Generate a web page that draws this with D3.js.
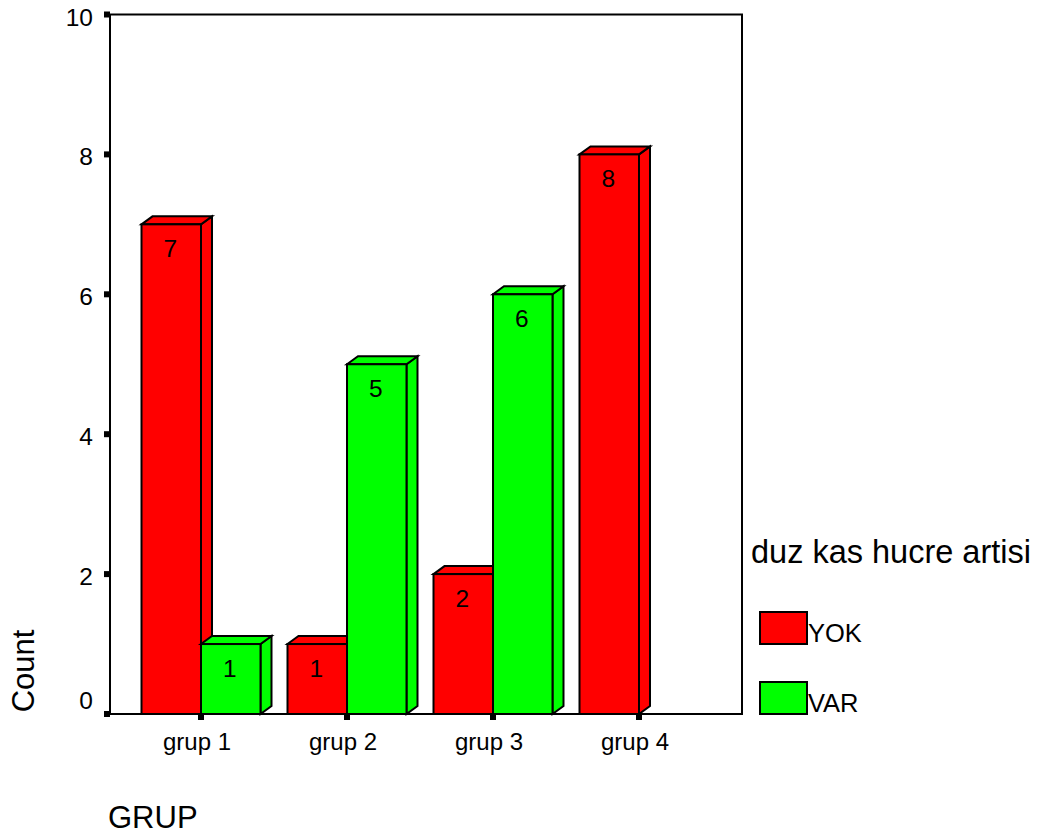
<!DOCTYPE html>
<html>
<head>
<meta charset="utf-8">
<script src="https://cdn.jsdelivr.net/npm/d3@7"></script>
<style>
  html, body { margin: 0; padding: 0; background: #fff; }
  svg { display: block; font-family: Arial, "Liberation Sans", sans-serif; }
</style>
</head>
<body>
<svg id="chart" width="1047" height="839"></svg>
<script>
// Counts of "duz kas hucre artisi" per group
const categories = ["grup 1", "grup 2", "grup 3", "grup 4"];
const seriesNames = ["YOK", "VAR"];
const yokValues = [7, 1, 2, 8];
const varValues = [1, 5, 6, 0];
const yTicks = [0, 2, 4, 6, 8, 10];
const seriesColors = { YOK: "#ff0000", VAR: "#00ff00" };

const svg = d3.select("#chart");

const plot = { left: 110, right: 742, top: 14.5, bottom: 714 };
const depthX = 11, depthY = 8;

const y = d3.scaleLinear().domain([0, 10]).range([plot.bottom, plot.top]);
const x = d3.scaleBand().domain(categories).range([128, 712]).padding(0);
const inner = d3.scaleBand().domain(seriesNames).range([-59.5, 59.5]).padding(0);

// frame
svg.append("rect")
  .attr("x", plot.left).attr("y", plot.top)
  .attr("width", plot.right - plot.left).attr("height", plot.bottom - plot.top)
  .attr("fill", "none").attr("stroke", "#000").attr("stroke-width", 2);

// y axis ticks (small squares) and labels
const yAxisG = svg.append("g");
yTicks.forEach((t, i) => {
  const yy = y(t);
  yAxisG.append("rect")
    .attr("x", plot.left - 6).attr("y", yy - 3)
    .attr("width", 6).attr("height", 6).attr("fill", "#000");
  // the lowest label is raised so it clears the category axis
  const ly = i === 0 ? yy - 5 : yy + 11;
  yAxisG.append("text")
    .attr("x", 93).attr("y", ly)
    .attr("text-anchor", "end")
    .attr("font-size", 24.5)
    .text(t);
});

// category ticks and labels
const xAxisG = svg.append("g");
categories.forEach(c => {
  const cx = x(c) + x.bandwidth() / 2;
  xAxisG.append("rect")
    .attr("x", cx - 3).attr("y", plot.bottom)
    .attr("width", 6).attr("height", 6).attr("fill", "#000");
  xAxisG.append("text")
    .attr("x", cx - 4).attr("y", 750)
    .attr("text-anchor", "middle")
    .attr("font-size", 24)
    .text(c);
});

// bars data
const bars = [];
categories.forEach((c, i) => {
  bars.push({ cat: c, series: "YOK", value: yokValues[i] });
  bars.push({ cat: c, series: "VAR", value: varValues[i] });
});

const barG = svg.append("g");
bars.filter(d => d.value > 0).forEach(d => {
  const cx = x(d.cat) + x.bandwidth() / 2;
  const x0 = cx + inner(d.series);
  const x1 = x0 + inner.bandwidth();
  const yt = y(d.value), yb = y(0);
  const col = seriesColors[d.series];
  const g = barG.append("g")
    .attr("stroke", "#000").attr("stroke-width", 2).attr("stroke-linejoin", "miter")
    .attr("fill", col);
  // side face
  g.append("polygon").attr("points", [
    [x1, yt], [x1 + depthX, yt - depthY], [x1 + depthX, yb - depthY], [x1, yb]
  ].map(p => p.join(",")).join(" "));
  // top face
  g.append("polygon").attr("points", [
    [x0, yt], [x0 + depthX, yt - depthY], [x1 + depthX, yt - depthY], [x1, yt]
  ].map(p => p.join(",")).join(" "));
  // front face
  g.append("rect").attr("x", x0).attr("y", yt).attr("width", x1 - x0).attr("height", yb - yt);
  // value label
  barG.append("text")
    .attr("x", (x0 + x1) / 2 - 1).attr("y", yt + 33)
    .attr("text-anchor", "middle")
    .attr("font-size", 24.5)
    .text(d.value);
});

// axis titles
svg.append("text")
  .attr("transform", "translate(34,671) rotate(-90)")
  .attr("text-anchor", "middle")
  .attr("font-size", 31)
  .text("Count");
svg.append("text")
  .attr("x", 108).attr("y", 828)
  .attr("font-size", 31)
  .text("GRUP");

// legend
const legend = svg.append("g");
legend.append("text")
  .attr("x", 751).attr("y", 563)
  .attr("font-size", 32.5)
  .text("duz kas hucre artisi");
seriesNames.forEach((s, i) => {
  const ly = 612 + i * 70;
  legend.append("rect")
    .attr("x", 760).attr("y", ly)
    .attr("width", 47).attr("height", 32)
    .attr("fill", seriesColors[s]).attr("stroke", "#000").attr("stroke-width", 2);
  legend.append("text")
    .attr("x", 808).attr("y", ly + 30)
    .attr("font-size", 25.5)
    .text(s);
});
</script>
</body>
</html>
